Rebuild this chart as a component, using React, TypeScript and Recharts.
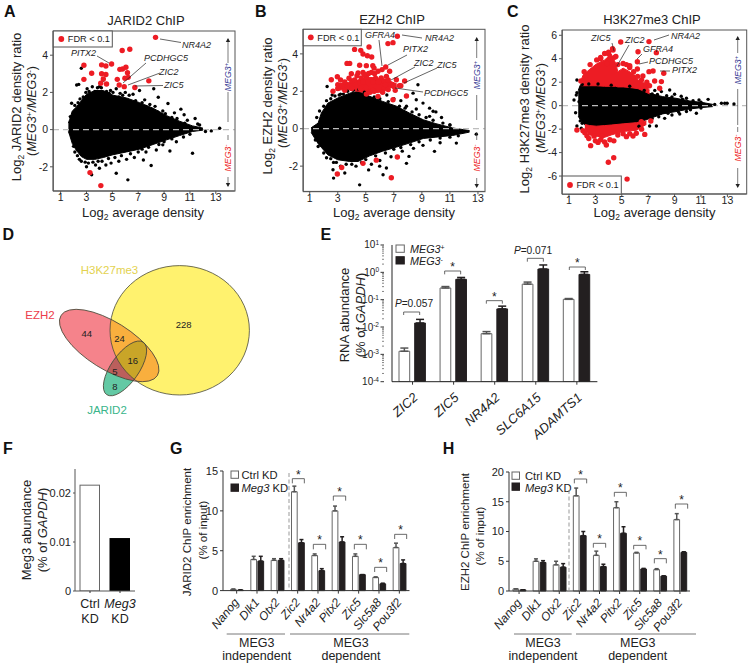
import React from "react";
import {
  Area,
  Bar,
  BarChart,
  ComposedChart,
  ErrorBar,
  ReferenceLine,
  Scatter,
  Surface,
  XAxis,
  YAxis,
} from "recharts";

const FONT = "'Liberation Sans', Arial, sans-serif";
const INK = "#222";

// MA plots: cloud rows are [x, low, high], points are [x, y]
const jaridCloud = [
  [1.6, -0.1, 0.35], [1.7, -0.3, 0.55], [1.9, -0.75, 1], [2.2, -1.1, 1.2], [2.6, -1.45, 1.55], [3, -1.6, 1.9],
  [3.65, -1.6, 2.1], [4.3, -1.5, 2.1], [5.05, -1.35, 1.85], [6.1, -1.2, 1.7], [7.1, -1.05, 1.45],
  [8.15, -0.8, 1.15], [9.2, -0.55, 0.75], [10.2, -0.32, 0.45], [11.2, -0.1, 0.2], [12, -0.03, 0.08],
];
const jaridBlack = [
  [2.24, 2.4], [2.4, 2.43], [2.6, 3.3], [3.05, 2.2], [3.65, 2.05], [4, 2.3], [4.3, 2.67], [4.86, 2.1],
  [5.3, 2.2], [7.1, 2.1], [8.2, 2.2], [8.55, 1.74], [9.3, 1.4], [10.3, 1.1], [10.55, 0.8], [11.4, 0.6],
  [11.75, 0.25], [12.65, -0.07], [13.3, 0.07], [11.2, -1.27], [9.45, -1.15], [8.9, -0.82], [9.95, -0.65],
  [8, -1.93], [7.4, -1.63], [6.2, -2.7], [5.3, -2.35], [3.4, -2.43], [3, -2], [4, -2.08], [1.85, 1.42],
  [6.6, 1.9], [7.5, 1.6], [6, 2.0], [5.6, 1.95], [2.8, 1.7], [6.7, -1.5], [6.1, -1.6], [5.5, -1.7],
  [4.9, -1.8], [4.5, -1.9], [7.6, -1.2], [8.4, -1.1], [3.7, -1.9], [2.6, -1.7], [9.8, 0.9], [8.9, 1.0],
  [7.9, 1.35], [10.8, 0.5], [11.6, 0.3], [12.2, -0.1], [2, -0.9], [1.75, 0.7],
  [2.1, 1.3], [2.35, 1.45], [2.5, 1.65], [2.75, 1.75], [2.95, 2], [3.2, 2.05], [3.45, 2.3], [3.85, 2.25],
  [4.15, 2.25], [4.55, 2.05], [4.75, 1.95], [5.05, 2], [5.5, 1.75], [5.8, 1.85], [6.3, 1.85], [6.8, 1.55],
  [7.3, 1.45], [7.6, 1.25], [8.3, 1.25], [8.5, 0.95], [9.1, 0.85], [9.6, 0.65], [10, 0.6], [10.6, 0.35],
  [2.1, -1.2], [2.3, -1.4], [2.45, -1.6], [2.9, -1.75], [3.15, -1.8], [3.5, -1.75], [3.9, -1.7], [4.2, -1.7],
  [4.7, -1.55], [5.2, -1.5], [5.7, -1.4], [6.4, -1.3], [7, -1.2], [7.3, -1.05], [7.8, -0.95], [8.6, -0.8],
  [9, -0.65], [9.6, -0.5], [10.5, -0.4], [11, -0.25],
];
const jaridRed = [
  [8.34, 4.96], [5.76, 4.25], [6.35, 4.32], [4.94, 3.53], [2.8, 3.46], [4.17, 3.48], [4.5, 3.42],
  [5.58, 3.24], [6.05, 3.35], [5.79, 3.26], [6.17, 3.06], [3.4, 3.03], [4.17, 3], [4.5, 2.96],
  [6.22, 2.81], [5.97, 2.76], [2.8, 2.7], [4.3, 2.72], [5.38, 2.7], [4.1, 2.49], [4.55, 2.45],
  [5.53, 2.4], [5.92, 2.31], [6.74, 2.26], [7.82, 2.62], [3.27, -2.31], [4.11, -3.01],
];

const ezhCloud = [
  [1.1, -0.2, 0.05], [1.6, -0.8, 0.3], [1.83, -1, 0.84], [2.3, -1.4, 1.37], [3, -1.66, 1.64],
  [3.85, -1.75, 1.9], [4.45, -1.75, 2], [5.28, -1.45, 1.73], [6.2, -1.2, 1.46], [7.2, -0.98, 1.2],
  [8.1, -0.77, 0.84], [9.1, -0.52, 0.48], [10, -0.45, 0.27], [11.2, -0.36, 0.04], [12.4, -0.18, -0.1],
];
const ezhBlack = [
  [2.24, 2.26], [8.72, 2.35], [8.37, 1.9], [8.6, 1.55], [9.08, 1.37], [9.55, 1.1], [9.8, 0.93],
  [9.55, 0.66], [12.88, -0.29], [11.46, -0.77], [9.9, -1.21], [9.08, -0.89], [8.08, -1.48], [7.9, -1.85],
  [6.23, -2.46], [6.47, -2.1], [5.99, -2], [4.56, -3], [2.7, -2.64], [3.5, -2.37], [2.66, -2.19],
  [7.9, 1.2], [7.5, 1.5], [7, 1.6], [6.5, 1.8], [5.4, -1.9], [6, -1.7], [6.8, -1.5], [7.6, -1.2], [3.2, -2],
  [2.7, -1.8], [4.3, -2], [2.6, 1.8], [3.2, 1.85], [8.6, 1.05], [10, 0.9], [10.4, 0.6], [10.3, -0.75],
  [11, 0.2], [8.4, -1.05], [5.2, -2.2],
  [1.5, 0.6], [1.7, 0.95], [2, 1.2], [2.2, 1.5], [2.5, 1.6], [2.8, 1.75], [3.1, 1.8], [3.4, 1.85], [3.7, 2],
  [4.1, 2.05], [4.5, 2.1], [4.9, 1.95], [5.6, 1.7], [6, 1.6], [6.6, 1.45], [7.4, 1.2], [7.8, 1.1], [8.3, 0.9],
  [8.8, 0.75], [9.3, 0.6], [9.8, 0.45], [10.5, 0.3], [11, 0.2],
  [1.4, -0.6], [1.6, -0.95], [2, -1.3], [2.2, -1.55], [2.5, -1.6], [2.9, -1.8], [3.6, -1.9], [4, -1.9],
  [4.7, -1.8], [5, -1.65], [5.7, -1.45], [6.4, -1.3], [7, -1.1], [7.5, -1], [8.2, -0.85], [8.8, -0.7],
  [9.6, -0.6], [10.3, -0.5], [11, -0.45], [11.6, -0.38],
];
const ezhRedBand = [
  [2.9, 2.05, 2.4], [3.6, 2.1, 2.45], [4.4, 2, 2.6], [5.2, 1.9, 2.75], [6, 1.95, 2.7], [6.7, 2.2, 2.55], [7.2, 2.2, 2.4],
];
const ezhRed = [
  [7.25, 4.94], [6.94, 4.6], [6.58, 4.55], [4.2, 4.24], [4.64, 4.19], [5.23, 4.37], [4.8, 3.99], [5.11, 3.9],
  [5.42, 3.83], [3.66, 3.49], [3.85, 3.49], [4.56, 3.39], [5.04, 3.37], [5.5, 3.37], [5.59, 3.24], [6.16, 3.16],
  [6.42, 3.3], [5.87, 3.07], [6.7, 3.07], [4.45, 2.98], [4.8, 3.01], [3.97, 2.94], [4.37, 2.83], [5.4, 3.01],
  [5.63, 2.94], [2.97, 2.78], [2.54, 2.62], [5.04, 2.76], [4.68, 2.71], [6.1, 2.71], [6.47, 2.8], [7.18, 2.62],
  [7.77, 2.55], [2.66, 2], [3, 2.35], [3.4, 2.25], [6.94, 1.55], [7.9, 1.75], [5.87, 1.73], [5.04, 1.85],
  [6.28, 2.12], [7, 2.25], [7.4, 2.3], [5.6, 2], [5.3, 1.95], [6.3, 2.55], [4, 2.55], [3.3, 2.3],
  [3.2, 2.6], [3.5, 2.5], [3.8, 2.7], [4.2, 2.6], [4.6, 2.45], [4.9, 2.9], [5.2, 2.95], [5.7, 2.7],
  [5.9, 2.5], [6.4, 2.35], [6.6, 2.6], [5.5, 2.5], [4.8, 2.5], [5, 2.2], [5.5, 2.05], [4.6, 2.15],
  [4, 2.15], [3.5, 2.05], [3, 2.15], [6.2, 1.95], [6.6, 2.1], [7.1, 2.05], [7.5, 2.3],
  [7.25, -1.51], [5.75, -1.68], [4.8, -1.85], [3.28, -2.07], [2.97, -2.42], [6.82, -2.62],
];

const h3Cloud = [
  [1.7, -0.9, 1.3], [1.86, -1.2, 1.76], [2.2, -1.65, 1.76], [3.07, -1.8, 1.76], [3.83, -1.75, 1.7], [5.1, -1.6, 1.65],
  [6.36, -1.4, 1.48], [7.1, -1.1, 1.05], [8.1, -0.7, 0.77], [9.1, -0.5, 0.63], [10.15, -0.28, 0.4],
  [11.15, -0.15, 0.26], [11.9, -0.08, 0.11],
];
const h3RedUpper = [
  [1.9, 1.7, 2.1], [2.06, 1.7, 2.6], [2.57, 1.7, 3.1], [3.07, 1.7, 3.55], [3.7, 1.65, 3.9], [4.2, 1.65, 4.4],
  [4.54, 1.65, 3.6], [4.7, 1.6, 2.9], [5.1, 1.6, 3.2], [5.6, 1.55, 2.9], [6.23, 1.45, 2.2], [6.74, 1.2, 1.9], [7.1, 1, 1.3],
];
const h3RedLower = [
  [2.2, -2, -1.6], [2.57, -2.5, -1.7], [3.07, -2.6, -1.75], [3.7, -2.7, -1.7], [4.2, -2.5, -1.65],
  [5.1, -2.2, -1.55], [6.1, -2.1, -1.45], [6.86, -1.6, -1.3],
];
const h3Black = [
  [1.6, 2.19], [1.6, 1.1], [1.38, 0.48], [1.76, 0.34], [1.6, -1.73], [1.93, -1.93], [8.63, 1.34], [9, 0.97],
  [9.9, 0.63], [11.54, 0.54], [10.85, 0.48], [12.55, 0.2], [12.8, 0.2], [12.98, 0.2], [13.5, 0.14], [12.04, 0.11],
  [9.39, -0.71], [8.25, -1.08], [7.62, -1.73], [7.11, -1.73], [6.3, -1.75], [10.65, -0.65], [8, 1.2], [7.5, 1.3],
  [9.5, 0.8], [1.5, -0.6], [1.55, 0.9], [9.9, -0.5], [8.8, -0.8],
  [1.9, 1.5], [2, 1.8], [2.5, 1.85], [3.2, 1.85], [4.2, 1.75], [5.6, 1.65], [6.7, 1.3], [7.3, 1], [7.7, 0.95],
  [8.4, 0.85], [8.8, 0.75], [9.6, 0.55], [10.4, 0.42], [11, 0.3], [1.85, -1.3], [2, -1.5], [7.3, -1.1],
  [7.8, -0.95], [8.5, -0.65], [9.3, -0.55], [10.2, -0.35], [11, -0.2],
];
const h3Red = [
  [7.06, 5.46], [4.92, 5.43], [6.23, 4.6], [7.62, 4.52], [6.18, 3.75], [6.18, 3.13], [4.34, 4.75], [4.46, 4.12],
  [3.88, 3.6], [7.06, 2.9], [7.37, 2.96], [8.18, 2.76], [7.49, 2.1], [8, 2.05], [7.87, 1.48], [6.6, 2.53],
  [6.86, 1.76], [5.85, 2.47], [3.4, 4], [4, 4.4], [5.6, 3.4], [2.3, 2.6], [1.9, 2.1],
  [2.15, 2.9], [2.6, 3.5], [3.1, 3.9], [3.4, 4.1], [3.7, 4.45], [4, 4.55], [4.3, 4.85], [4.55, 4.2], [4.7, 3.5],
  [5.1, 3.6], [5.35, 3.5], [5.6, 3.25], [5.9, 2.9], [6.2, 2.5], [6.5, 2.2], [6.9, 2], [7.1, 1.7],
  [1.6, -2.07], [2.06, -2.13], [2.36, -2.56], [2.64, -3.41], [3.2, -3.13], [3.83, -3.35], [4.4, -3], [5.35, -2.64],
  [5.85, -2.59], [6.74, -2.45], [6.48, -1.36], [7.2, -1.31], [4.39, -4.44], [3.98, -4.83], [5.4, -6.26],
  [2.5, -2.8], [3, -3], [3.4, -2.9], [3.7, -3.1], [4.1, -2.9], [4.7, -2.5], [5.1, -2.4], [5.6, -2.4], [6.1, -2.35],
  [6.5, -2], [2.2, -2.3], [2.9, -2.6], [3.5, -2.6],
];

const oddTicks = [1, 3, 5, 7, 9, 11, 13];

// bar panels
const rnaGenes = ["ZIC2", "ZIC5", "NR4A2", "SLC6A15", "ADAMTS1"];
const rnaPlus = [0.0013, 0.267, 0.0057, 0.37, 0.103];
const rnaMinus = [0.014, 0.555, 0.046, 1.32, 0.84];
const rnaPlusErr = [0.0004, 0.035, 0.0011, 0.07, 0.007];
const rnaMinusErr = [0.005, 0.095, 0.012, 0.54, 0.21];
const logDecades = [0.0001, 0.001, 0.01, 0.1, 1];
const logMajors = [0.0001, 0.001, 0.01, 0.1, 1, 10];
const logExps = [-4, -3, -2, -1, 0, 1];

const kdLabels = ["Ctrl", "Meg3"];
const kdValues = [0.0216, 0.0107];

const chipGenes = ["Nanog", "Dlk1", "Otx2", "Zic2", "Nr4a2", "Pitx2", "Zic5", "Slc5a8", "Pou3f2"];
const jaridCtrl = [0.15, 3.9, 3.8, 12.4, 4.4, 10, 4.3, 1.65, 5.4];
const jaridKd = [0.07, 3.7, 3.8, 6, 2.5, 6.1, 2, 0.85, 3.4];
const jaridCtrlErr = [0.05, 0.4, 0.2, 0.7, 0.2, 0.6, 0.3, 0.07, 0.55];
const jaridKdErr = [0.02, 0.6, 0.2, 0.4, 0.25, 0.65, 0, 0.08, 0.45];
const ezhCtrl = [0.35, 5, 4.4, 16, 6, 14, 6.4, 3.6, 12];
const ezhKd = [0.2, 4.8, 4, 9.3, 4.1, 9.7, 3.7, 2.5, 6.5];
const ezhCtrlErr = [0, 0.4, 0.6, 1.3, 0.7, 1, 0.1, 0.15, 1];
const ezhKdErr = [0, 0.3, 0.6, 0.7, 0.4, 1.1, 0.1, 0.05, 0.1];

const vennCounts = [44, 24, 16, 5, 8, 228];

const toPoints = (rows: number[][]) => rows.map(([x, y]) => ({ x, y }));
const toBand = (rows: number[][]) => rows.map(([x, lo, hi]) => ({ x, range: [lo, hi] }));

const AXIS_W = 40;
const PAD = 8;

function holder(x: number, y: number): React.CSSProperties {
  return { position: "absolute", left: x - AXIS_W, top: y - PAD };
}

const blackDot = (p: any) => <circle cx={p.cx} cy={p.cy} r={1.7} fill="#000" />;
const redDot = (p: any) => <circle cx={p.cx} cy={p.cy} r={2.7} fill="#ed1c24" />;

function MAPlot(props: {
  x: number; y: number; w: number; h: number;
  xDomain: number[]; yDomain: number[]; yTicks: number[];
  cloud: number[][]; black: number[][]; red: number[][]; redBands?: number[][][];
}) {
  const { x, y, w, h, xDomain, yDomain, yTicks, cloud, black, red, redBands = [] } = props;
  const tick = { fontSize: 10.5, fill: INK, fontFamily: FONT };
  return (
    <div style={holder(x, y)}>
      <ComposedChart
        width={w + AXIS_W + PAD}
        height={h + PAD + 24}
        data={toBand(cloud)}
        margin={{ top: PAD, right: PAD, bottom: 0, left: 0 }}
      >
        <XAxis
          dataKey="x"
          type="number"
          domain={xDomain}
          ticks={oddTicks}
          interval={0}
          allowDataOverflow
          height={24}
          tick={tick}
          tickSize={3}
          tickMargin={0}
          stroke="#555"
        />
        <YAxis
          type="number"
          domain={yDomain}
          ticks={yTicks}
          interval={0}
          allowDataOverflow
          width={AXIS_W}
          tick={tick}
          tickSize={3}
          stroke="#555"
        />
        <Area dataKey="range" type="linear" fill="#000" fillOpacity={1} stroke="#000" isAnimationActive={false} dot={false} activeDot={false} />
        <Scatter data={toPoints(black)} dataKey="y" shape={blackDot} isAnimationActive={false} />
        {redBands.map((band, i) => (
          <Area key={i} data={toBand(band)} dataKey="range" type="linear" fill="#ed1c24" fillOpacity={1} stroke="#ed1c24" isAnimationActive={false} dot={false} activeDot={false} />
        ))}
        <Scatter data={toPoints(red)} dataKey="y" shape={redDot} isAnimationActive={false} />
        <ReferenceLine y={0} stroke="#bdbdbd" strokeWidth={1.2} strokeDasharray="6 4" />
      </ComposedChart>
    </div>
  );
}

function RnaTick(p: any) {
  const v = p.payload.value;
  const i = logMajors.findIndex((m) => Math.abs(m - v) < m * 0.001);
  if (i < 0) {
    return <line x1={p.x} x2={p.x - 2} y1={p.y} y2={p.y} stroke="#333" strokeWidth={0.6} />;
  }
  return (
    <g>
      <line x1={p.x} x2={p.x - 3.5} y1={p.y} y2={p.y} stroke="#333" />
      <text x={p.x - 5} y={p.y + 3.5} textAnchor="end" fontSize={10} fill={INK} fontFamily={FONT}>
        10<tspan dy={-3.5} fontSize={6.5}>{logExps[i]}</tspan>
      </text>
    </g>
  );
}

function SlantTick(p: any) {
  const { x, y, payload, size, dx, dy, angle } = p;
  return (
    <g>
      <line x1={x} x2={x} y1={y - 8} y2={y - 5} stroke="#333" />
      <text
        x={x + dx}
        y={y + dy}
        textAnchor="end"
        fontSize={size}
        fontStyle="italic"
        fill={INK}
        fontFamily={FONT}
        transform={`rotate(${angle} ${x + dx} ${y + dy})`}
      >
        {payload.value}
      </text>
    </g>
  );
}

function RnaPanel() {
  const table = rnaGenes.map((name, i) => ({
    name,
    plus: rnaPlus[i],
    minus: rnaMinus[i],
    plusErr: [0, rnaPlusErr[i]],
    minusErr: [0, rnaMinusErr[i]],
  }));
  const ticks = logDecades.flatMap((d) => [1, 2, 3, 4, 5, 6, 7, 8, 9].map((m) => m * d)).concat(10);
  return (
    <div style={holder(391.7, 245)}>
      <BarChart
        width={205.4 + AXIS_W + PAD}
        height={136.7 + PAD + 64}
        data={table}
        barSize={10.7}
        barGap={5}
        margin={{ top: PAD, right: PAD, bottom: 0, left: 0 }}
      >
        <XAxis
          dataKey="name"
          height={64}
          interval={0}
          stroke="#222"
          tickLine={false}
          tick={<SlantTick size={13} dx={6} dy={9} angle={-42} />}
        />
        <YAxis
          scale="log"
          type="number"
          domain={[0.0001, 10]}
          ticks={ticks}
          interval={0}
          allowDataOverflow
          width={AXIS_W}
          stroke="#222"
          tickLine={false}
          tick={<RnaTick />}
        />
        <Bar dataKey="plus" fill="#fff" stroke="#666" isAnimationActive={false}>
          <ErrorBar dataKey="plusErr" direction="y" width={4} stroke="#555" isAnimationActive={false} />
        </Bar>
        <Bar dataKey="minus" fill="#231f20" stroke="#231f20" isAnimationActive={false}>
          <ErrorBar dataKey="minusErr" direction="y" width={4} stroke="#231f20" isAnimationActive={false} />
        </Bar>
      </BarChart>
    </div>
  );
}

function KdTick(p: any) {
  const name = p.payload.value;
  return (
    <g fontFamily={FONT} fontSize={12.5} fill={INK} textAnchor="middle">
      <line x1={p.x} x2={p.x} y1={p.y - 8} y2={p.y - 6} stroke="#333" />
      <text x={p.x} y={p.y + 9} fontStyle={name === "Meg3" ? "italic" : "normal"}>{name}</text>
      <text x={p.x} y={p.y + 24}>KD</text>
    </g>
  );
}

function KdPanel() {
  const table = kdLabels.map((name, i) => ({ name, value: kdValues[i] }));
  const fills = ["#fff", "#000"];
  return (
    <div style={holder(75.3, 469)}>
      <BarChart
        width={60 + AXIS_W + PAD}
        height={122 + PAD + 40}
        data={table}
        barSize={19.5}
        margin={{ top: PAD, right: PAD, bottom: 0, left: 0 }}
      >
        <XAxis dataKey="name" height={40} interval={0} stroke="#555" tickLine={false} tick={<KdTick />} />
        <YAxis
          type="number"
          domain={[0, 0.0249]}
          ticks={[0, 0.01, 0.02]}
          interval={0}
          allowDataOverflow
          width={AXIS_W}
          stroke="#555"
          tickSize={2}
          tick={{ fontSize: 11, fill: INK, fontFamily: FONT }}
        />
        <Bar
          dataKey="value"
          isAnimationActive={false}
          shape={(p: any) => (
            <rect x={p.x} y={p.y} width={p.width} height={p.height} fill={fills[p.index]} stroke={p.index ? "#000" : "#666"} />
          )}
        />
      </BarChart>
    </div>
  );
}

function ChipPanel(props: {
  x: number; y: number; w: number; h: number; yMax: number; yTicks: number[]; padLeft: number;
  ctrl: number[]; kd: number[]; ctrlErr: number[]; kdErr: number[];
}) {
  const { x, y, w, h, yMax, yTicks, padLeft, ctrl, kd, ctrlErr, kdErr } = props;
  const table = chipGenes.map((name, i) => ({
    name,
    ctrl: ctrl[i],
    kd: kd[i],
    ctrlErr: [0, ctrlErr[i]],
    kdErr: [0, kdErr[i]],
  }));
  return (
    <div style={holder(x, y)}>
      <BarChart
        width={w + AXIS_W + PAD}
        height={h + PAD + 50}
        data={table}
        barSize={5.7}
        barGap={1.4}
        margin={{ top: PAD, right: PAD, bottom: 0, left: 0 }}
      >
        <XAxis
          dataKey="name"
          height={50}
          interval={0}
          stroke="#333"
          tickLine={false}
          padding={{ left: padLeft, right: 0 }}
          tick={<SlantTick size={12} dx={3} dy={4} angle={-50} />}
        />
        <YAxis
          type="number"
          domain={[0, yMax]}
          ticks={yTicks}
          interval={0}
          width={AXIS_W}
          stroke="#333"
          tickSize={3}
          tick={{ fontSize: 11, fill: INK, fontFamily: FONT }}
        />
        <Bar dataKey="ctrl" fill="#fff" stroke="#666" isAnimationActive={false}>
          <ErrorBar dataKey="ctrlErr" direction="y" width={2} stroke="#555" isAnimationActive={false} />
        </Bar>
        <Bar dataKey="kd" fill="#231f20" stroke="#231f20" isAnimationActive={false}>
          <ErrorBar dataKey="kdErr" direction="y" width={2} stroke="#231f20" isAnimationActive={false} />
        </Bar>
      </BarChart>
    </div>
  );
}

function VennPanel() {
  const yellow = { cx: 179.7, cy: 330.3, rx: 69.7, ry: 64.7 };
  const red = { cx: 109.2, cy: 345.5, rx: 56.8, ry: 23.7, transform: "rotate(32 109.2 345.5)" };
  const green = { cx: 125, cy: 368.4, rx: 32, ry: 14, transform: "rotate(-55 125 368.4)" };
  const spots = [[86.7, 333], [119.5, 338.5], [132.7, 360], [115, 371.7], [115, 386.7], [183.7, 324.5]];
  return (
    <Surface width={750} height={666} style={{ position: "absolute", left: 0, top: 0 }}>
      <defs>
        <clipPath id="inYellow"><ellipse {...yellow} /></clipPath>
        <clipPath id="inRed"><ellipse {...red} /></clipPath>
      </defs>
      <ellipse {...yellow} fill="#fff26e" />
      <ellipse {...red} fill="#f5838b" />
      <ellipse {...green} fill="#63c9a4" />
      <g clipPath="url(#inYellow)"><ellipse {...red} fill="#f9af3e" /></g>
      <g clipPath="url(#inRed)"><ellipse {...green} fill="#bb5f5c" /></g>
      <g clipPath="url(#inYellow)">
        <g clipPath="url(#inRed)"><ellipse {...green} fill="#c9a528" /></g>
      </g>
      <g fill="none" stroke="#4a4a3a" strokeWidth={0.8}>
        <ellipse {...yellow} />
        <ellipse {...red} />
        <ellipse {...green} />
      </g>
      <g fontFamily={FONT} fontSize={9.5} fill="#222" textAnchor="middle">
        {vennCounts.map((n, i) => (
          <text key={n} x={spots[i][0]} y={spots[i][1] + 3.5}>{n}</text>
        ))}
      </g>
      <g fontFamily={FONT} fontSize={11.5} textAnchor="middle">
        <text x={109.5} y={274} fill="#e3d24f">H3K27me3</text>
        <text x={40} y={319} fill="#ec3b4a">EZH2</text>
        <text x={107} y={414} fill="#3ab58a">JARID2</text>
      </g>
    </Surface>
  );
}

// bracket and star, given in 3x crop coordinates relative to the panel origin
function Bracket(p: { ox: number; oy: number; x1: number; x2: number; top: number; bot: number; star?: number }) {
  const x1 = p.ox + p.x1 / 3;
  const x2 = p.ox + p.x2 / 3;
  const t = p.oy + p.top / 3;
  const b = p.oy + p.bot / 3;
  return (
    <g>
      <path d={`M${x1} ${b}V${t}H${x2}V${b}`} fill="none" stroke="#444" strokeWidth={0.8} />
      {p.star !== undefined && (
        <text x={(x1 + x2) / 2} y={p.oy + p.star / 3} textAnchor="middle" fontSize={12} fill={INK}>*</text>
      )}
    </g>
  );
}

function Leader({ d }: { d: string }) {
  return <path d={d} fill="none" stroke="#222" strokeWidth={0.7} />;
}

function Gene({ x, y, t }: { x: number; y: number; t: string }) {
  return <text x={x} y={y} fontSize={9} fontStyle="italic" fill={INK}>{t}</text>;
}

function Legend({ x, y, w, h, dx, dy }: { x: number; y: number; w: number; h: number; dx: number; dy: number }) {
  return (
    <g>
      <rect x={x} y={y} width={w} height={h} fill="#fff" stroke="#555" />
      <circle cx={x + dx} cy={y + dy} r={2.9} fill="#ed1c24" />
      <text x={x + dx + 6.5} y={y + dy + 3.2} fontSize={9.2} fill={INK}>FDR &lt; 0.1</text>
    </g>
  );
}

function SideArrows({ x, plusY, minusY, segs }: { x: number; plusY: number; minusY: number; segs: number[][] }) {
  const top = segs[0][0];
  const bottom = segs[segs.length - 1][1];
  return (
    <g>
      {segs.map(([a, b]) => (
        <line key={a} x1={x} x2={x} y1={a} y2={b} stroke="#444" strokeWidth={0.7} />
      ))}
      <path d={`M${x} ${top - 1}l-2.2 4h4.4z`} fill="#222" />
      <path d={`M${x} ${bottom + 1}l-2.2 -4h4.4z`} fill="#222" />
      <text transform={`translate(${x + 3},${plusY}) rotate(-90)`} textAnchor="middle" fontSize={8.8} fontStyle="italic" fill="#3a3d96">
        MEG3<tspan dy={-3} fontSize={6}>+</tspan>
      </text>
      <text transform={`translate(${x + 3},${minusY}) rotate(-90)`} textAnchor="middle" fontSize={8.8} fontStyle="italic" fill="#ed1c24">
        MEG3<tspan dy={-3} fontSize={6}>-</tspan>
      </text>
    </g>
  );
}

function Ratio({ x, y }: { x: number; y: number }) {
  return (
    <text transform={`translate(${x},${y}) rotate(-90)`} textAnchor="middle" fontSize={12.5} fill={INK}>
      (<tspan fontStyle="italic">MEG3</tspan><tspan dy={-4} fontSize={8}>+</tspan>
      <tspan dy={4} fontStyle="italic">/MEG3</tspan><tspan dy={-4} fontSize={8}>-</tspan><tspan dy={4}>)</tspan>
    </text>
  );
}

function Vertical({ x, y, children, size = 13 }: { x: number; y: number; children: React.ReactNode; size?: number }) {
  return (
    <text transform={`translate(${x},${y}) rotate(-90)`} textAnchor="middle" fontSize={size} fill={INK}>{children}</text>
  );
}

function Log2({ label }: { label: string }) {
  return (
    <>
      Log<tspan dy={3} fontSize={8.5}>2</tspan><tspan dy={-3}> {label}</tspan>
    </>
  );
}

function Overlay() {
  const letters: [string, number, number][] = [
    ["A", 4, 16.5], ["B", 255, 16.5], ["C", 507, 16.5], ["D", 2.5, 240],
    ["E", 320.5, 240], ["F", 3, 454], ["G", 170, 454], ["H", 442.7, 454],
  ];
  return (
    <svg width={750} height={666} style={{ position: "absolute", left: 0, top: 0, pointerEvents: "none" }} fontFamily={FONT}>
      {letters.map(([t, x, y]) => (
        <text key={t} x={x} y={y} fontSize={16} fontWeight="bold" fill="#111">{t}</text>
      ))}

      {/* A */}
      <rect x={53.3} y={31} width={181.7} height={160} fill="none" stroke="#555" />
      <text x={146} y={25} textAnchor="middle" fontSize={13} fill={INK}>JARID2 ChIP</text>
      <Vertical x={21} y={107}><Log2 label="JARID2 density ratio" /></Vertical>
      <Ratio x={36} y={111} />
      <text x={143} y={217} textAnchor="middle" fontSize={13} fill={INK}><Log2 label="average density" /></text>
      <Legend x={53.3} y={31} w={59} h={16} dx={8} dy={8} />
      <SideArrows x={228} plusY={77} minusY={158} segs={[[39, 63], [92, 122], [135, 140], [177, 186]]} />
      <Gene x={182} y={48} t="NR4A2" />
      <Gene x={71} y={56} t="PITX2" />
      <Gene x={144} y={61} t="PCDHGC5" />
      <Gene x={159} y={75} t="ZIC2" />
      <Gene x={164} y={88} t="ZIC5" />
      <Leader d="M160 39L181 42.5" />
      <Leader d="M97 56L109 63" />
      <Leader d="M146 63L123 83" />
      <Leader d="M160 73L128 85" />
      <Leader d="M163 85.5L135 86" />

      {/* B */}
      <rect x={303.3} y={29.3} width={181.7} height={162.4} fill="none" stroke="#555" />
      <text x={392} y={24} textAnchor="middle" fontSize={13} fill={INK}>EZH2 ChIP</text>
      <Vertical x={272} y={106}><Log2 label="EZH2 density ratio" /></Vertical>
      <Ratio x={287} y={103} />
      <text x={394} y={217} textAnchor="middle" fontSize={13} fill={INK}><Log2 label="average density" /></text>
      <Legend x={303.3} y={29.3} w={58} h={16.5} dx={7.5} dy={8} />
      <SideArrows x={476.7} plusY={75} minusY={158} segs={[[38, 58], [95, 120], [132, 140], [178, 187]]} />
      <Gene x={365} y={38} t="GFRA4" />
      <Gene x={425} y={41} t="NR4A2" />
      <Gene x={403} y={52} t="PITX2" />
      <Gene x={414} y={66} t="ZIC2" />
      <Gene x={437} y={68} t="ZIC5" />
      <Gene x={424} y={96} t="PCDHGC5" />
      <Leader d="M402 35L422 38" />
      <Leader d="M379 40L382 66" />
      <Leader d="M407 55L388 65" />
      <Leader d="M415 67L391 80" />
      <Leader d="M437 68L404 83" />
      <Leader d="M423 92L395 88" />

      {/* C */}
      <rect x={562.3} y={30} width={184.4} height={164} fill="none" stroke="#555" />
      <text x={652} y={24} textAnchor="middle" fontSize={13} fill={INK}>H3K27me3 ChIP</text>
      <Vertical x={529} y={109}><Log2 label="H3K27me3 density ratio" /></Vertical>
      <Ratio x={545} y={108} />
      <text x={654.5} y={217} textAnchor="middle" fontSize={13} fill={INK}><Log2 label="average density" /></text>
      <Legend x={562.3} y={176} w={59} h={18} dx={7.7} dy={9} />
      <SideArrows x={737.7} plusY={70} minusY={148} segs={[[37, 53], [89, 125], [127, 132], [168, 187]]} />
      <Gene x={591} y={41} t="ZIC5" />
      <Gene x={625} y={43} t="ZIC2" />
      <Gene x={671} y={39} t="NR4A2" />
      <Gene x={643} y={52} t="GFRA4" />
      <Gene x={649} y={64} t="PCDHGC5" />
      <Gene x={672} y={73} t="PITX2" />
      <Leader d="M669 35L654 40" />
      <Leader d="M612 43L614 51" />
      <Leader d="M629 45L617 66" />
      <Leader d="M642 54L637 59" />
      <Leader d="M648 62L639 64" />
      <Leader d="M670 71L660 71" />

      {/* E */}
      <rect x={396} y={245} width={8.3} height={7.3} fill="#fff" stroke="#666" />
      <rect x={396} y={256.7} width={8.3} height={7.3} fill="#231f20" stroke="#231f20" />
      <text x={410} y={253} fontSize={10.8} fill={INK}><tspan fontStyle="italic">MEG3</tspan><tspan dy={-3.5} fontSize={7}>+</tspan></text>
      <text x={410} y={265} fontSize={10.8} fill={INK}><tspan fontStyle="italic">MEG3</tspan><tspan dy={-3.5} fontSize={7}>-</tspan></text>
      <Vertical x={349} y={315}>RNA abundance</Vertical>
      <Vertical x={365} y={315}>(% of <tspan fontStyle="italic">GAPDH</tspan>)</Vertical>
      <Bracket ox={310} oy={220} x1={281} x2={329} top={276} bot={285} />
      <Bracket ox={310} oy={220} x1={404} x2={452} top={153} bot={163} star={153} />
      <Bracket ox={310} oy={220} x1={529} x2={577} top={242} bot={251} star={242} />
      <Bracket ox={310} oy={220} x1={652} x2={700} top={115} bot={125} />
      <Bracket ox={310} oy={220} x1={778} x2={826} top={141} bot={150} star={141} />
      <text x={414} y={307} textAnchor="middle" fontSize={10.2} fill={INK}><tspan fontStyle="italic">P</tspan>=0.057</text>
      <text x={533} y={254} textAnchor="middle" fontSize={10.2} fill={INK}><tspan fontStyle="italic">P</tspan>=0.071</text>

      {/* F */}
      <Vertical x={31} y={530} size={13}>Meg3 abundance</Vertical>
      <Vertical x={47} y={530} size={13}>(% of <tspan fontStyle="italic">GAPDH</tspan>)</Vertical>

      {/* G */}
      <Vertical x={191} y={532} size={11.5}>JARID2 ChIP enrichment</Vertical>
      <Vertical x={207} y={530} size={11.5}>(% of input)</Vertical>
      <rect x={231} y={471} width={7.5} height={7.3} fill="#fff" stroke="#666" />
      <rect x={231} y={484} width={7.5} height={7.3} fill="#231f20" stroke="#231f20" />
      <text x={241.5} y={479} fontSize={11.2} fill={INK}>Ctrl KD</text>
      <text x={241.5} y={492} fontSize={11.2} fill={INK}><tspan fontStyle="italic">Meg3</tspan> KD</text>
      <line x1={289} x2={289} y1={473} y2={590} stroke="#999" strokeDasharray="4 2.5" strokeWidth={1} />
      <Bracket ox={170} oy={430} x1={367} x2={403} top={146} bot={160} star={146} />
      <Bracket ox={170} oy={430} x1={430} x2={467} top={343} bot={358} star={343} />
      <Bracket ox={170} oy={430} x1={490} x2={527} top={198} bot={212} star={198} />
      <Bracket ox={170} oy={430} x1={553} x2={589} top={343} bot={358} star={343} />
      <Bracket ox={170} oy={430} x1={614} x2={650} top={412} bot={426} star={412} />
      <Bracket ox={170} oy={430} x1={674} x2={710} top={313} bot={327} star={313} />
      <path d="M226.7 634H285M290 634H409.3" stroke="#555" strokeWidth={0.8} />
      <g fontSize={12.5} fill={INK} textAnchor="middle">
        <text x={256.7} y={647}>MEG3</text>
        <text x={256.7} y={660}>independent</text>
        <text x={351} y={647}>MEG3</text>
        <text x={351} y={660}>dependent</text>
      </g>

      {/* H */}
      <Vertical x={469} y={532} size={11.5}>EZH2 ChIP enrichment</Vertical>
      <Vertical x={484} y={536} size={11.5}>(% of input)</Vertical>
      <rect x={512} y={472} width={7.5} height={7.3} fill="#fff" stroke="#666" />
      <rect x={512} y={483} width={7.5} height={7.3} fill="#231f20" stroke="#231f20" />
      <text x={525} y={480} fontSize={11.2} fill={INK}>Ctrl KD</text>
      <text x={525} y={492} fontSize={11.2} fill={INK}><tspan fontStyle="italic">Meg3</tspan> KD</text>
      <line x1={569} x2={569} y1={490} y2={590} stroke="#999" strokeDasharray="4 2.5" strokeWidth={1} />
      <Bracket ox={460} oy={430} x1={343} x2={380} top={147} bot={160} star={147} />
      <Bracket ox={460} oy={430} x1={400} x2={437} top={340} bot={353} star={340} />
      <Bracket ox={460} oy={430} x1={463} x2={499} top={187} bot={200} star={187} />
      <Bracket ox={460} oy={430} x1={521} x2={558} top={346} bot={358} star={346} />
      <Bracket ox={460} oy={430} x1={583} x2={619} top={386} bot={400} star={386} />
      <Bracket ox={460} oy={430} x1={646} x2={683} top={222} bot={236} star={222} />
      <path d="M514 634H571.7M576 634H696" stroke="#555" strokeWidth={0.8} />
      <g fontSize={12.5} fill={INK} textAnchor="middle">
        <text x={543} y={647}>MEG3</text>
        <text x={543} y={660}>independent</text>
        <text x={637.7} y={647}>MEG3</text>
        <text x={637.7} y={660}>dependent</text>
      </g>
    </svg>
  );
}

export default function App() {
  return (
    <div style={{ position: "absolute", left: 0, top: 0, width: 750, height: 666, background: "#fff", overflow: "hidden" }}>
      <MAPlot
        x={53.3} y={31} w={181.7} h={160}
        xDomain={[0.41, 14.46]} yDomain={[-3.3, 5.3]} yTicks={[-2, 0, 2, 4]}
        cloud={jaridCloud} black={jaridBlack} red={jaridRed}
      />
      <MAPlot
        x={303.3} y={29.3} w={181.7} h={162.4}
        xDomain={[0.52, 13.48]} yDomain={[-3.35, 5.33]} yTicks={[-2, 0, 2, 4]}
        cloud={ezhCloud} black={ezhBlack} red={ezhRed} redBands={[ezhRedBand]}
      />
      <MAPlot
        x={562.3} y={30} w={184.4} h={164}
        xDomain={[0.47, 14.44]} yDomain={[-7.53, 6.45]} yTicks={[-6, -4, -2, 0, 2, 4, 6]}
        cloud={h3Cloud} black={h3Black} red={h3Red} redBands={[h3RedUpper, h3RedLower]}
      />
      <VennPanel />
      <RnaPanel />
      <KdPanel />
      <ChipPanel
        x={223.3} y={470.7} w={186.5} h={119.6} yMax={15} yTicks={[0, 5, 10, 15]} padLeft={3.5}
        ctrl={jaridCtrl} kd={jaridKd} ctrlErr={jaridCtrlErr} kdErr={jaridKdErr}
      />
      <ChipPanel
        x={509} y={471.7} w={181} h={119} yMax={20} yTicks={[0, 5, 10, 15, 20]} padLeft={0}
        ctrl={ezhCtrl} kd={ezhKd} ctrlErr={ezhCtrlErr} kdErr={ezhKdErr}
      />
      <Overlay />
    </div>
  );
}
